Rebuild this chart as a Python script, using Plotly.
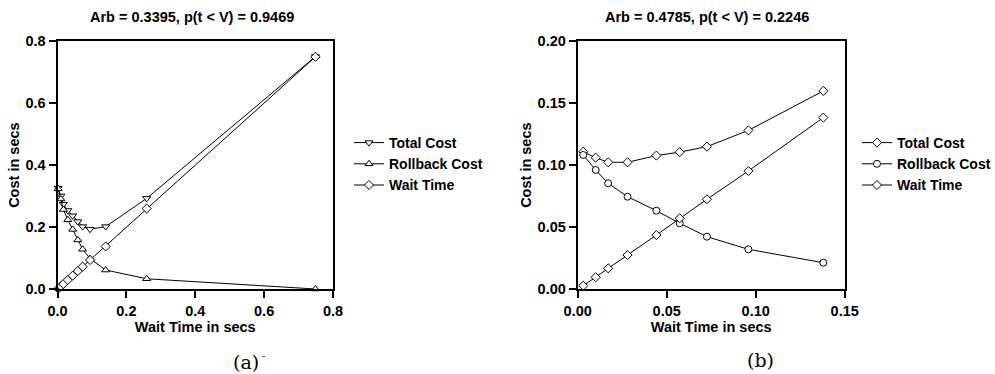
import plotly.graph_objects as go

# ---- data: panel (a) ----
a_wait_x = [0.002, 0.010, 0.017, 0.030, 0.044, 0.059, 0.073, 0.0945, 0.140, 0.259, 0.749]
a_total = [0.326, 0.301, 0.274, 0.254, 0.237, 0.218, 0.202, 0.1935, 0.202, 0.293, 0.750]
a_rollback = [0.324, 0.291, 0.257, 0.224, 0.193, 0.159, 0.129, 0.099, 0.062, 0.034, 0.001]
a_wait = [0.002, 0.010, 0.017, 0.030, 0.044, 0.059, 0.073, 0.0945, 0.138, 0.260, 0.749]

# ---- data: panel (b) ----
b_wait_x = [0.0031, 0.0101, 0.0171, 0.028, 0.0442, 0.0573, 0.0726, 0.0959, 0.138]
b_total = [0.1108, 0.1060, 0.1023, 0.1023, 0.1077, 0.1105, 0.1149, 0.1280, 0.1598]
b_rollback = [0.1082, 0.0961, 0.0854, 0.0746, 0.0633, 0.0532, 0.0424, 0.0322, 0.0214]
b_wait = [0.0029, 0.0097, 0.0169, 0.0276, 0.0437, 0.0572, 0.0725, 0.0953, 0.1383]

title_a = "Arb = 0.3395, p(t < V) = 0.9469"
title_b = "Arb = 0.4785, p(t < V) = 0.2246"
series_names = ["Total Cost", "Rollback Cost", "Wait Time"]
x_title = "Wait Time in secs"
y_title = "Cost in secs"

W, H = 995, 374
FONT = "Liberation Sans, Arial, sans-serif"
BOLD = dict(family=FONT, size=14.5, color="black", weight="bold")
LEG = dict(family=FONT, size=14, color="black", weight="bold")
SERIF = "DejaVu Serif, Liberation Serif, serif"


def px_x(p):
    return p / W


def px_y(p):
    return 1 - p / H


def mk(symbol):
    return dict(symbol=symbol, size=7, color="white", line=dict(color="black", width=1))


fig = go.Figure()

specs_a = [(a_total, "triangle-down"), (a_rollback, "triangle-up"), (a_wait, "diamond")]
for (ys, sym), name in zip(specs_a, series_names):
    fig.add_trace(go.Scatter(x=a_wait_x, y=ys, name=name, mode="lines+markers",
                             line=dict(color="black", width=1), marker=mk(sym),
                             cliponaxis=False, xaxis="x", yaxis="y", legend="legend"))

specs_b = [(b_total, "diamond"), (b_rollback, "circle"), (b_wait, "diamond")]
for (ys, sym), name in zip(specs_b, series_names):
    fig.add_trace(go.Scatter(x=b_wait_x, y=ys, name=name, mode="lines+markers",
                             line=dict(color="black", width=1), marker=mk(sym),
                             cliponaxis=False, xaxis="x2", yaxis="y2", legend="legend2"))

ydom = [px_y(289.3), px_y(41)]
axis_common = dict(showgrid=False, zeroline=False, showline=True, linecolor="black",
                   linewidth=2, mirror=True, ticks="outside", ticklen=7, tickwidth=2,
                   tickcolor="black", tickfont=BOLD, automargin=False)

fig.update_layout(
    width=W, height=H, margin=dict(l=0, r=0, t=0, b=0, autoexpand=False),
    paper_bgcolor="white", plot_bgcolor="white",
    font=dict(family=FONT, color="black"),
    xaxis=dict(domain=[px_x(57.5), px_x(333)], range=[0, 0.8], dtick=0.2, tickformat=".1f",
               anchor="y", title=dict(text=x_title, font=BOLD, standoff=2), **axis_common),
    yaxis=dict(domain=ydom, range=[0, 0.8], dtick=0.2, tickformat=".1f", anchor="x",
               title=dict(text=y_title, font=BOLD, standoff=2), **axis_common),
    xaxis2=dict(domain=[px_x(577.7), px_x(844.7)], range=[0, 0.15], dtick=0.05, tickformat=".2f",
                anchor="y2", title=dict(text=x_title, font=BOLD, standoff=2), **axis_common),
    yaxis2=dict(domain=ydom, range=[0, 0.20], dtick=0.05, tickformat=".2f", anchor="x2",
                title=dict(text=y_title, font=BOLD, standoff=2), **axis_common),
    legend=dict(x=px_x(349), y=px_y(127), xanchor="left", yanchor="top", font=LEG,
                bgcolor="rgba(0,0,0,0)", borderwidth=0, itemwidth=30),
    legend2=dict(x=px_x(857), y=px_y(127), xanchor="left", yanchor="top", font=LEG,
                 bgcolor="rgba(0,0,0,0)", borderwidth=0, itemwidth=30),
    showlegend=True,
)

anns = [
    dict(text=title_a, x=px_x(192), y=px_y(17), font=BOLD),
    dict(text=title_b, x=px_x(707), y=px_y(17), font=BOLD),
    dict(text="(a)", x=px_x(246), y=px_y(362), font=dict(family=SERIF, size=19, color="black")),
    dict(text="-", x=px_x(263), y=px_y(355), font=dict(family=SERIF, size=10, color="black")),
    dict(text="(b)", x=px_x(760), y=px_y(360), font=dict(family=SERIF, size=19, color="black")),
]
for a in anns:
    fig.add_annotation(xref="paper", yref="paper", showarrow=False, xanchor="center", yanchor="middle", **a)

fig.write_html(
    "out.html",
    config={"displayModeBar": False},
    post_script="document.body.style.margin='0';document.body.style.padding='0';"
                "document.documentElement.style.overflow='hidden';",
)
